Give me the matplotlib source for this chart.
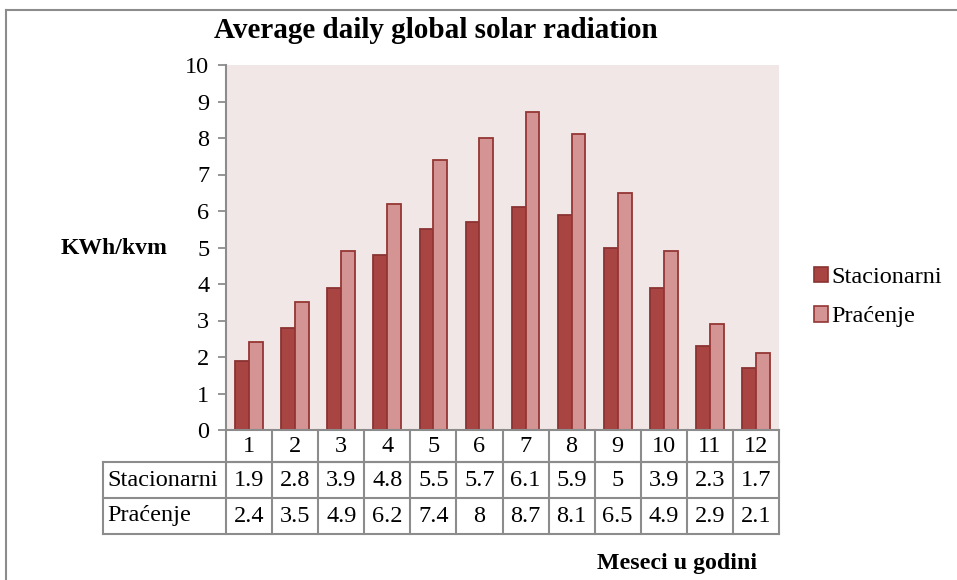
import numpy as np
import matplotlib
matplotlib.use("Agg")
import matplotlib.pyplot as plt
import matplotlib.transforms as mtransforms
from matplotlib.patches import Patch

# ---------------- DATA ----------------
meseci = ["1", "2", "3", "4", "5", "6", "7", "8", "9", "10", "11", "12"]
stacionarni = [1.9, 2.8, 3.9, 4.8, 5.5, 5.7, 6.1, 5.9, 5.0, 3.9, 2.3, 1.7]
pracenje = [2.4, 3.5, 4.9, 6.2, 7.4, 8.0, 8.7, 8.1, 6.5, 4.9, 2.9, 2.1]
stac_txt = ["1.9", "2.8", "3.9", "4.8", "5.5", "5.7", "6.1", "5.9", "5", "3.9", "2.3", "1.7"]
prac_txt = ["2.4", "3.5", "4.9", "6.2", "7.4", "8", "8.7", "8.1", "6.5", "4.9", "2.9", "2.1"]
serije = ["Stacionarni", "Praćenje"]

# ---------------- STYLE ----------------
W, H = 957, 580
plt.rcParams["font.family"] = ["Liberation Serif", "DejaVu Serif"]
FS = 17.5
C_DARK, C_DARK_E = "#A84442", "#8A3332"
C_LIGHT, C_LIGHT_E = "#D49494", "#943634"
C_BG = "#F2E7E7"
C_GRID = "#8C8C8C"

fig = plt.figure(figsize=(W / 100, H / 100), dpi=100)

def px(x0, y0, x1, y1):
    return [x0 / W, 1 - y1 / H, (x1 - x0) / W, (y1 - y0) / H]

ax = fig.add_axes(px(226, 65, 779, 430))
ax.set_facecolor(C_BG)

x = np.arange(1, len(meseci) + 1)
bw = 0.3
ax.bar(x - bw / 2, stacionarni, bw, color=C_DARK, edgecolor=C_DARK_E, lw=1.3)
ax.bar(x + bw / 2, pracenje, bw, color=C_LIGHT, edgecolor=C_LIGHT_E, lw=1.3)

ax.set_xlim(0.5, len(meseci) + 0.5)
ax.set_ylim(0, 10)
ax.set_yticks(range(0, 11))
ax.set_xticks([])
ax.tick_params(axis="y", length=6, width=1.3, color=C_GRID, labelsize=FS, pad=6)
for s in ["top", "right"]:
    ax.spines[s].set_visible(False)
for s in ["left", "bottom"]:
    ax.spines[s].set_color(C_GRID)
    ax.spines[s].set_linewidth(1.5)

# ---------------- DATA TABLE ----------------
tr = mtransforms.blended_transform_factory(ax.transData, ax.transAxes)
ah = 365.0
y_hdr = -32 / ah
y_r1 = -68 / ah
y_r2 = -104 / ah
x_lab = 0.5 - 123 / 46.08
x_end = len(meseci) + 0.5
lk = dict(color=C_GRID, lw=1.5, transform=tr, clip_on=False, solid_capstyle="projecting")

ax.plot([0.5, x_end], [y_hdr, y_hdr], **lk)
ax.plot([x_lab, x_end], [y_hdr, y_hdr], **lk)
ax.plot([x_lab, x_end], [y_r1, y_r1], **lk)
ax.plot([x_lab, x_end], [y_r2, y_r2], **lk)
ax.plot([x_lab, x_lab], [y_hdr, y_r2], **lk)
for b in np.arange(0.5, len(meseci) + 1):
    ax.plot([b, b], [0, y_r2], **lk)

for i, m in enumerate(meseci):
    ax.text(x[i], y_hdr / 2, m, ha="center", va="center", fontsize=FS, transform=tr)
    ax.text(x[i], (y_hdr + y_r1) / 2, stac_txt[i], ha="center", va="center", fontsize=FS, transform=tr)
    ax.text(x[i], (y_r1 + y_r2) / 2, prac_txt[i], ha="center", va="center", fontsize=FS, transform=tr)
ax.text(x_lab + 0.1, (y_hdr + y_r1) / 2, serije[0], ha="left", va="center", fontsize=FS, transform=tr)
ax.text(x_lab + 0.1, (y_r1 + y_r2) / 2, serije[1], ha="left", va="center", fontsize=FS, transform=tr)

# ---------------- TEXTS ----------------
fig.text(436 / W, 1 - 31 / H, "Average daily global solar radiation",
         ha="center", va="center", fontsize=21, fontweight="bold")
fig.text(114 / W, 1 - 248 / H, "KWh/kvm", ha="center", va="center", fontsize=17, fontweight="bold")
fig.text(677 / W, 1 - 563 / H, "Meseci u godini", ha="center", va="center", fontsize=17.2, fontweight="bold")

handles = [Patch(facecolor=C_DARK, edgecolor=C_DARK_E, lw=1.2),
           Patch(facecolor=C_LIGHT, edgecolor=C_LIGHT_E, lw=1.2)]
fig.legend(handles, serije, loc="center left", bbox_to_anchor=(804 / W, 1 - 297 / H),
           frameon=False, fontsize=FS, handlelength=0.6, handleheight=0.6,
           handletextpad=0.12, labelspacing=0.75, borderaxespad=0)

# chart frame (only left & top visible in the crop)
fig.add_artist(plt.Line2D([6 / W, 6 / W], [0, 1 - 10 / H], color="#8C8C8C", lw=1.5))
fig.add_artist(plt.Line2D([6 / W, 1], [1 - 10 / H, 1 - 10 / H], color="#8C8C8C", lw=1.5))

fig.savefig("out.png", dpi=100)
